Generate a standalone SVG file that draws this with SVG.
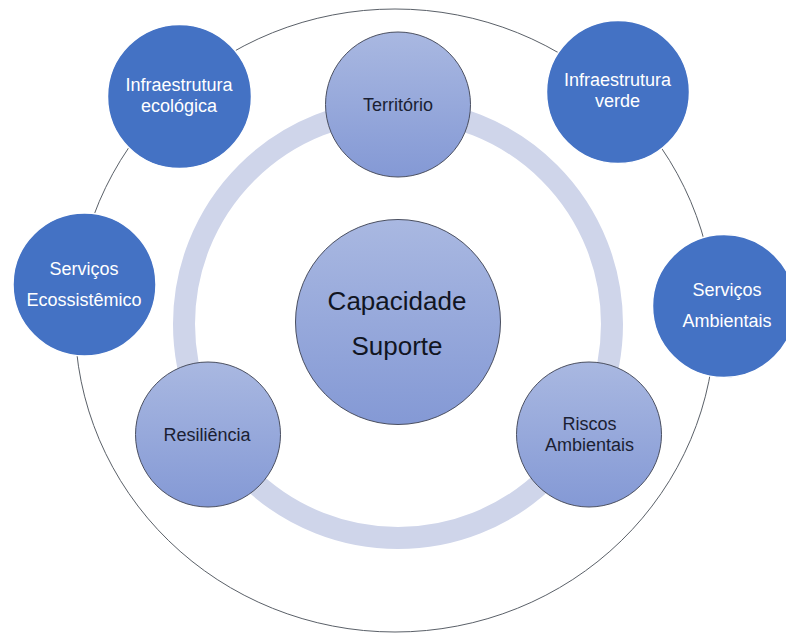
<svg xmlns="http://www.w3.org/2000/svg" width="786" height="633" viewBox="0 0 786 633">
<defs>
<linearGradient id="g" x1="0" y1="0" x2="0" y2="1">
<stop offset="0" stop-color="#A9B8E1"/>
<stop offset="1" stop-color="#8499D5"/>
</linearGradient>
<style>
.in{fill:url(#g);stroke:#4a4f60;stroke-width:1}
.out{fill:#4472C4;stroke:#ffffff;stroke-width:1.5}
.ti{font-family:"Liberation Sans",Arial,sans-serif;font-size:18px;fill:#1b1f33;text-anchor:middle}
.to{font-family:"Liberation Sans",Arial,sans-serif;font-size:18px;fill:#ffffff;text-anchor:middle}
.big{font-family:"Liberation Sans",Arial,sans-serif;font-size:26px;fill:#111522;text-anchor:middle}
</style>
</defs>
<rect width="786" height="633" fill="#ffffff"/>
<g id="connectors">
<ellipse cx="395" cy="320.5" rx="320" ry="311.5" fill="none" stroke="#5a6068" stroke-width="1"/>
<circle cx="398" cy="324" r="214" fill="none" stroke="#CFD5EA" stroke-width="22"/>
</g>
<g id="capacidade">
<circle class="in" cx="398" cy="322" r="102.5"/>
<text class="big" x="397" y="310">Capacidade</text>
<text class="big" x="397" y="355">Suporte</text>
</g>
<g id="territorio">
<circle class="in" cx="398" cy="104.5" r="72.5"/>
<text class="ti" x="398" y="111">Território</text>
</g>
<g id="resiliencia">
<circle class="in" cx="208" cy="434.5" r="72.5"/>
<text class="ti" x="207" y="441">Resiliência</text>
</g>
<g id="riscos">
<circle class="in" cx="589" cy="434.5" r="72.5"/>
<text class="ti" x="589.5" y="430">Riscos</text>
<text class="ti" x="589.5" y="451">Ambientais</text>
</g>
<g id="infra-ecologica">
<circle class="out" cx="179.5" cy="96.5" r="72"/>
<text class="to" x="179" y="91">Infraestrutura</text>
<text class="to" x="179" y="112">ecológica</text>
</g>
<g id="infra-verde">
<circle class="out" cx="618" cy="92" r="71.5"/>
<text class="to" x="617.5" y="86">Infraestrutura</text>
<text class="to" x="617.5" y="107">verde</text>
</g>
<g id="servicos-ecossistemico">
<circle class="out" cx="84.5" cy="284.5" r="71.5"/>
<text class="to" x="84" y="275">Serviços</text>
<text class="to" x="84" y="306">Ecossistêmico</text>
</g>
<g id="servicos-ambientais">
<circle class="out" cx="724" cy="306" r="71.5"/>
<text class="to" x="727" y="296">Serviços</text>
<text class="to" x="727" y="327">Ambientais</text>
</g>
</svg>
